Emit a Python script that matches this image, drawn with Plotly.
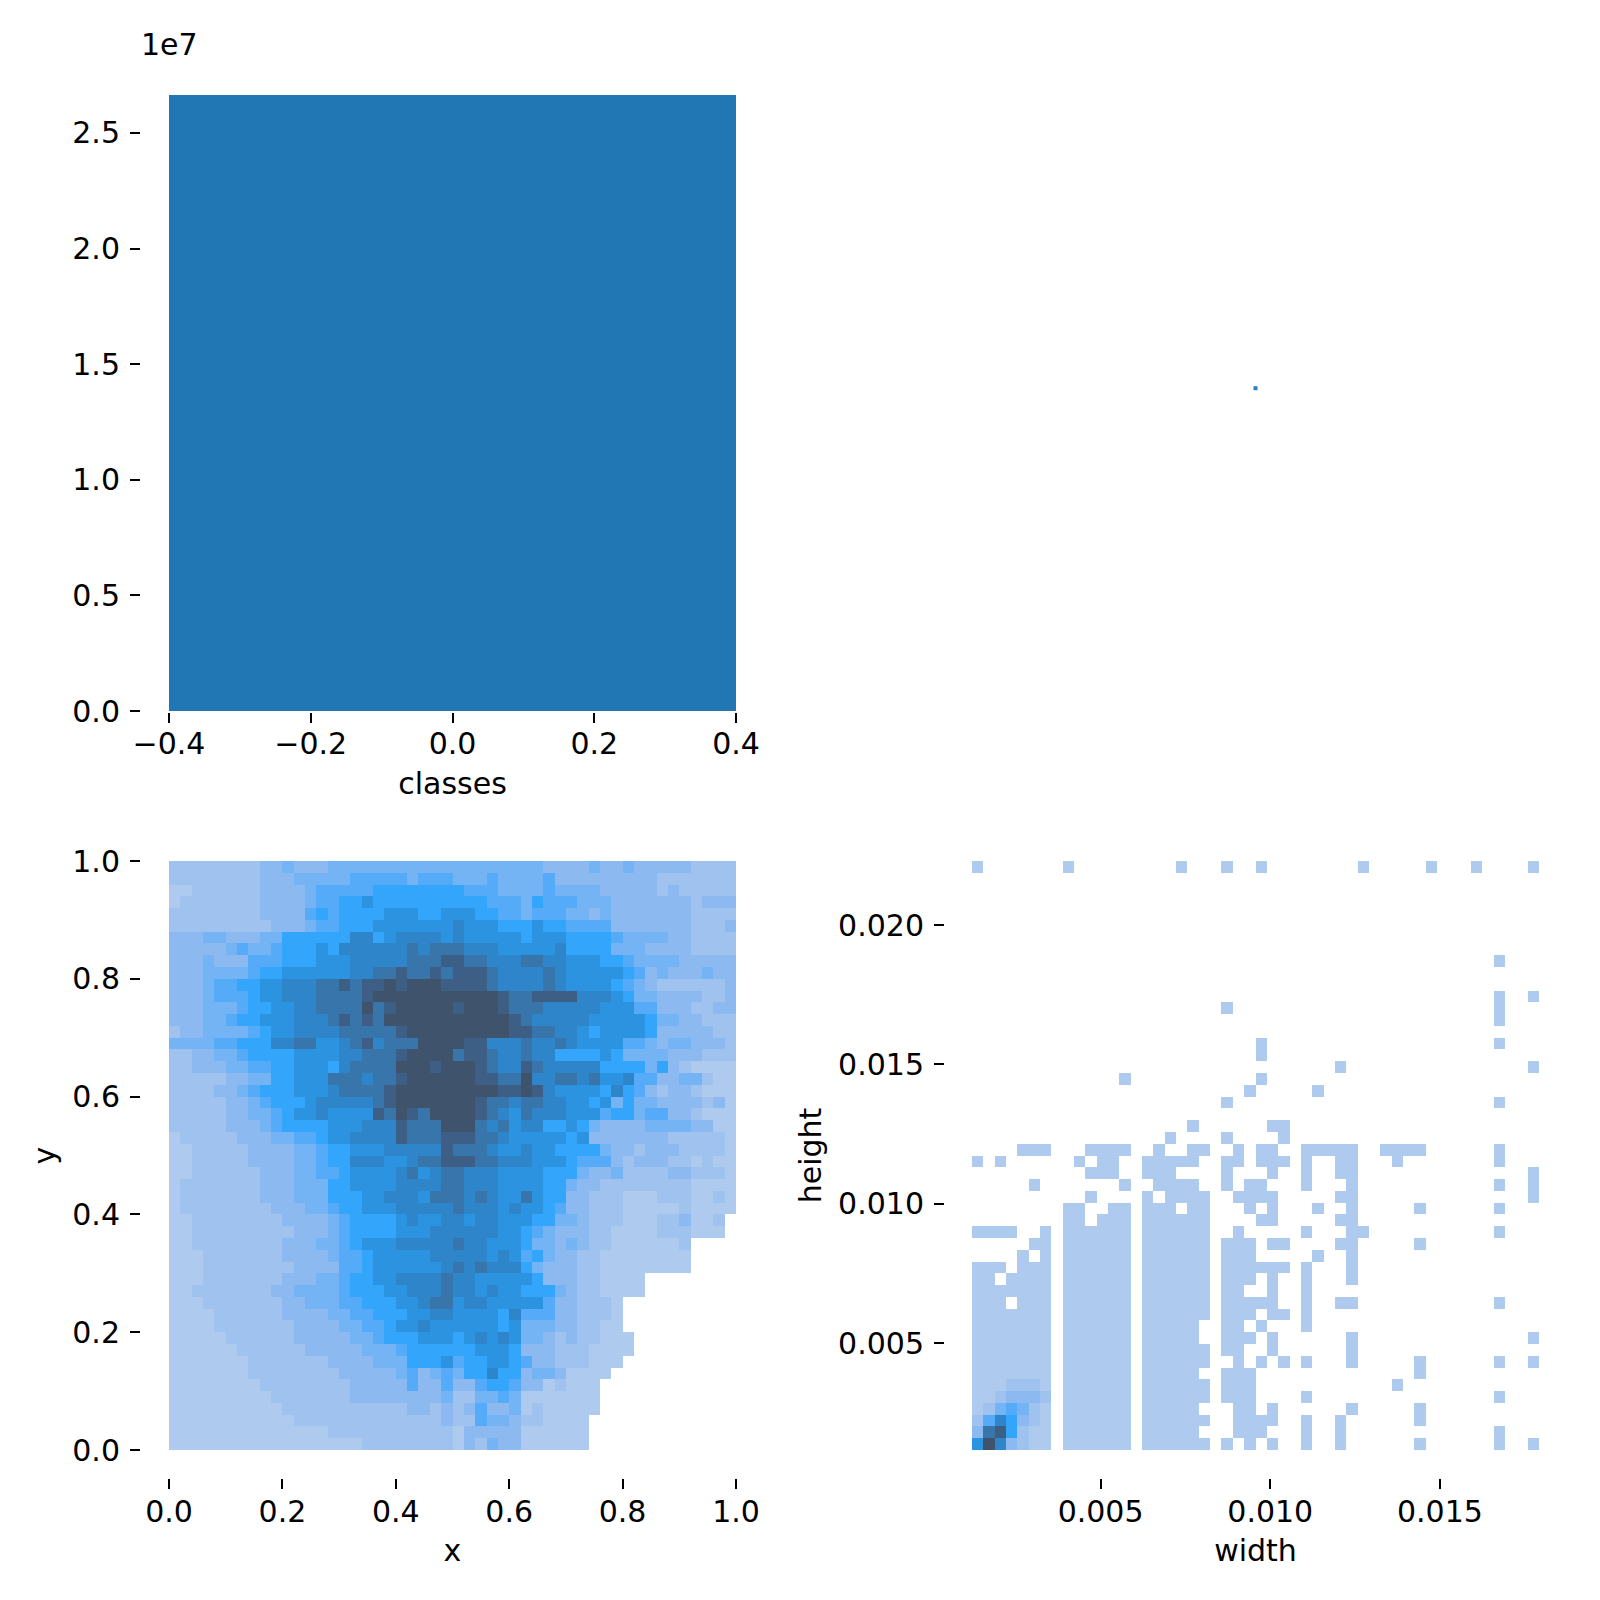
import plotly.graph_objects as go

FONT = "DejaVu Sans"
BAR_X = [0]
BAR_Y = [2.664e7]
BAR_TICKS_X = [-0.4, -0.2, 0.0, 0.2, 0.4]
BAR_TICKTEXT_X = ["\u22120.4", "\u22120.2", "0.0", "0.2", "0.4"]
BAR_TICKS_Y = [0, 0.5e7, 1.0e7, 1.5e7, 2.0e7, 2.5e7]
BAR_TICKTEXT_Y = ["0.0", "0.5", "1.0", "1.5", "2.0", "2.5"]
UNIT_TICKS = [0.0, 0.2, 0.4, 0.6, 0.8, 1.0]
UNIT_TICKTEXT = ["0.0", "0.2", "0.4", "0.6", "0.8", "1.0"]
WIDTH_TICKS = [0.005, 0.010, 0.015]
WIDTH_TICKTEXT = ["0.005", "0.010", "0.015"]
HEIGHT_TICKS = [0.005, 0.010, 0.015, 0.020]
HEIGHT_TICKTEXT = ["0.005", "0.010", "0.015", "0.020"]
WIDTH_RANGE = [0.00121, 0.01792]
HEIGHT_RANGE = [0.00116, 0.0223]
DOT_X = [0.5]
DOT_Y = [0.524]

# density level per bin; first row is y = 1.0, hex digits, 0 = no data
XY_LEFT = [
    "2222222233433344444444444", "2222222233344444555554555", "1122222233334555556666666",
    "1222222233334556676666666", "2222222233335656666777667", "2222222223334556667777777",
    "3334433344666666886788887", "3333345445666768888889899", "333433355566677788888999a",
    "33344445667777778899a99a9", "333455667788899a9aababbba", "33345556778889999abbbbbbb",
    "33344456677889999b9abbbbb", "333445667778889a9a9bbbbbb", "23344445677888899999abbbb",
    "44445566688997789a8999bbb", "22334456666777788999abbbb", "22333445566777689999bbbab",
    "22222334466777999899abbbb", "2222334566677789999abbbbb", "2222233456667888889abbbbb",
    "222223344567787777a9ba9bb", "22222333456666777888a999b", "12222233344556778888a999a",
    "112222233334456677788888a", "112222233334456688877899a", "1122222233344556777789789",
    "1222222233344466777788889", "1222222233344466677888799", "1222222223334456677788888",
    "1122222222333345666678778", "1122222222233345666677788", "1122222222333445677788888",
    "1112222222333345567777788", "1112222222233335567777778", "1112222222333445667788889",
    "1122222223344445666778889", "1112222222334445566677899", "1111222222333344556667788",
    "1111222222233334455677877", "1111122222233333445666777", "1111112222223333344456666",
    "1111111222222233334446667", "1111111222222223333345345", "1111111122222222333335335",
    "1111111112222222333333334", "1111111111222222222223323", "1111111111122222222222223",
    "1111111111111122222222222", "1111111111111111122222222",
]
XY_RIGHT = [
    "4444444433334334333332222", "4445444453333333332222222", "6555444454444333332322222",
    "6665554655544433333332333", "7766554555443433333332222", "8777666766555533333332223",
    "8777776777666654444332222", "9888777778666644433332222", "a998889988777665444433333",
    "aaa9888898777776534333433", "aaa9888898777765432222223", "bbbba99aaaa88876443333223",
    "abbba99988888777553332233", "bbbbba9888887777764433222", "bbbbbaa998876777763333322",
    "baa8889889877775543443332", "9aa9889886666764444333222", "bba988a988888666646321111",
    "bbaa99b889989778553344211", "bbbbaaba87777686532332111", "bba9989988776746443333231",
    "bba9879888777566455332111", "bb98978866764333344443311", "aa99877777673333333222221",
    "9998778776666433233322221", "aa99888777655532333221211", "9888777766643342222332221",
    "9888777766433222222221111", "9898779766332221112221121", "9888787765332221111121111",
    "878877766443222111223112", "888877654333221111222111", "988777644343221111112",
    "888787564332211111111", "989888643332211111111", "88777776333221111",
    "88787766643221111", "788777775332221", "777768555332221", "777767444332211",
    "6787874432322111", "6677763332221111", "566776533222111", "46686634431111",
    "3356653312111", "2244541111111", "2353341211111", "225443221111", "133333111111",
    "132433111111",
]

# occupied width bins per height bin; first row is the largest height
WH_OCCUPIED = [
    "0 8 18 22 25 34 40 44 49", "", "", "", "", "", "", "", "46", "", "",
    "46 49", "22 46", "46", "", "25 46", "25", "32 49", "13 25", "24 30", "22 46", "",
    "19 26-27", "17 22 27",
    "4-6 10-13 16 19-20 23 25-26 29-33 36-39 46",
    "0 2 9 11-12 15-19 22-23 25-27 29 32-33 37 46",
    "10-12 15-17 22 26 29 32-33 49",
    "5 13 16-19 22 24-25 29 33 46 49",
    "10 15 17-20 23-26 32-33 49",
    "8-9 12-13 15-17 19-20 24 26 30 33 39 46",
    "8-9 11-13 15-20 25-26 32-33",
    "0-3 6 8-13 15-20 23 29 33-34 46",
    "5-6 8-13 15-20 22-24 26-27 32-33 39",
    "4 6 8-13 15-20 22-24 30 33",
    "0-2 4-6 8-13 15-20 22-27 29 33",
    "0-1 3-6 8-13 15-20 22-24 26 29 33",
    "0-6 8-13 15-20 22-23 26 29",
    "0-2 4-6 8-13 15-20 22-26 29 32-33 46",
    "0-6 8-13 15-20 22-24 26-27 29",
    "0-6 8-13 15-19 22-23 25 29",
    "0-6 8-13 15-19 22-24 26 33 49",
    "0-6 8-13 15-20 22-23 26 33",
    "0-6 8-13 15-20 23 25 27 29 33 39 46 49",
    "0-6 8-13 15-19 22-24 39",
    "0-6 8-13 15-20 22-24 37",
    "0-6 8-13 15-20 22-24 29 46",
    "0-6 8-13 15-19 23-24 26 33 39",
    "0-6 8-13 15-20 23-26 29 32 39",
    "0-6 8-13 15-19 23-25 29 32 46",
    "0-6 8-13 15-20 22 24 26 29 32 39 46 49",
]
# denser levels in the corner: last rows, first seven width bins
WH_CORE = ["1112221", "1123332", "1245421", "2586321", "39a6211", "7b83211"]
LEVEL_COLORS = ["#AECAEE", "#A0C2EE", "#8CBAF0", "#74B3F4", "#56ABF8", "#33A5FA",
                "#2B93E0", "#2F85CA", "#3875AA", "#3D5F85", "#3F536C"]


def parse_levels(text):
    row = [int(c, 16) if c != "0" else None for c in text]
    return row + [None] * (50 - len(row))


def parse_occupied(spec):
    row = [None] * 50
    for part in spec.split():
        lo, _, hi = part.partition("-")
        for i in range(int(lo), int(hi or lo) + 1):
            row[i] = 1
    return row


xy_z = [parse_levels(a + b) for a, b in zip(XY_LEFT, XY_RIGHT)][::-1]
wh_rows = [parse_occupied(s) for s in WH_OCCUPIED]
for k, text in enumerate(WH_CORE):
    r = 50 - len(WH_CORE) + k
    for c, ch in enumerate(text):
        wh_rows[r][c] = int(ch, 16)
wh_z = wh_rows[::-1]

scale = [[i / 10, col] for i, col in enumerate(LEVEL_COLORS)]
W = H = 1600.0
PAGE_OFFSET = 8  # the page body margin shifts the figure


def fx(px):
    return (px - PAGE_OFFSET) / W


def fy(py):
    return 1 - (py - PAGE_OFFSET) / H


TICKS = dict(ticks="outside", ticklen=10, tickwidth=2.2, tickcolor="black", showgrid=False,
             zeroline=False, showline=False, tickfont=dict(family=FONT, size=30, color="black"),
             tickmode="array")
YTICKS = dict(TICKS, ticklabelstandoff=4)
TITLE = dict(family=FONT, size=30, color="black")

fig = go.Figure()
fig.add_trace(go.Bar(x=BAR_X, y=BAR_Y, width=0.8, marker=dict(color="#2077B4", line_width=0),
                     xaxis="x", yaxis="y"))
fig.add_trace(go.Scatter(x=DOT_X, y=DOT_Y, mode="markers", xaxis="x2", yaxis="y2",
                         marker=dict(symbol="square", size=4, color="#2F7FBA", line_width=0)))
dx = 1 / 50
fig.add_trace(go.Heatmap(z=xy_z, x0=dx / 2, dx=dx, y0=dx / 2, dy=dx, xaxis="x3", yaxis="y3",
                         colorscale=scale, zmin=1, zmax=11, showscale=False))
wdx = (WIDTH_RANGE[1] - WIDTH_RANGE[0]) / 50
hdy = (HEIGHT_RANGE[1] - HEIGHT_RANGE[0]) / 50
fig.add_trace(go.Heatmap(z=wh_z, x0=WIDTH_RANGE[0] + wdx / 2, dx=wdx,
                         y0=HEIGHT_RANGE[0] + hdy / 2, dy=hdy, xaxis="x4", yaxis="y4",
                         colorscale=scale, zmin=1, zmax=11, showscale=False))

fig.update_layout(
    width=1600, height=1600, margin=dict(l=0, r=0, t=0, b=0, autoexpand=False),
    paper_bgcolor="white", plot_bgcolor="white", showlegend=False,
    font=dict(family=FONT, size=30, color="black"),
    xaxis=dict(domain=[fx(169), fx(736)], range=[-0.4, 0.4], anchor="free", position=fy(711.5),
               tickvals=BAR_TICKS_X, ticktext=BAR_TICKTEXT_X, ticklabelstandoff=-5,
               title=dict(text="classes", font=TITLE, standoff=13), **TICKS),
    yaxis=dict(domain=[fy(711), fy(95)], range=[0, BAR_Y[0]], anchor="free", position=fx(140),
               tickvals=BAR_TICKS_Y, ticktext=BAR_TICKTEXT_Y, **YTICKS),
    xaxis2=dict(domain=[fx(972), fx(1539)], range=[0, 1], anchor="y2", visible=False),
    yaxis2=dict(domain=[fy(711), fy(95)], range=[0, 1], anchor="x2", visible=False),
    xaxis3=dict(domain=[fx(169), fx(736)], range=[0, 1], anchor="free", position=fy(1478),
                tickvals=UNIT_TICKS, ticktext=UNIT_TICKTEXT, ticklabelstandoff=-3,
                title=dict(text="x", font=TITLE, standoff=11), **TICKS),
    yaxis3=dict(domain=[fy(1450), fy(861)], range=[0, 1], anchor="free", position=fx(140),
                tickvals=UNIT_TICKS, ticktext=UNIT_TICKTEXT,
                title=dict(text="y", font=TITLE, standoff=6), **YTICKS),
    xaxis4=dict(domain=[fx(972), fx(1539)], range=WIDTH_RANGE, anchor="free", position=fy(1478),
                tickvals=WIDTH_TICKS, ticktext=WIDTH_TICKTEXT, ticklabelstandoff=-3,
                title=dict(text="width", font=TITLE, standoff=11), **TICKS),
    yaxis4=dict(domain=[fy(1450), fy(861)], range=HEIGHT_RANGE, anchor="free", position=fx(944),
                tickvals=HEIGHT_TICKS, ticktext=HEIGHT_TICKTEXT,
                title=dict(text="height", font=TITLE, standoff=6), **YTICKS),
    annotations=[dict(text="1e7", xref="paper", yref="paper", x=fx(139), y=fy(45), xanchor="left",
                      yanchor="middle", showarrow=False, font=dict(family=FONT, size=30, color="black"))],
)
fig.write_html("out.html")
